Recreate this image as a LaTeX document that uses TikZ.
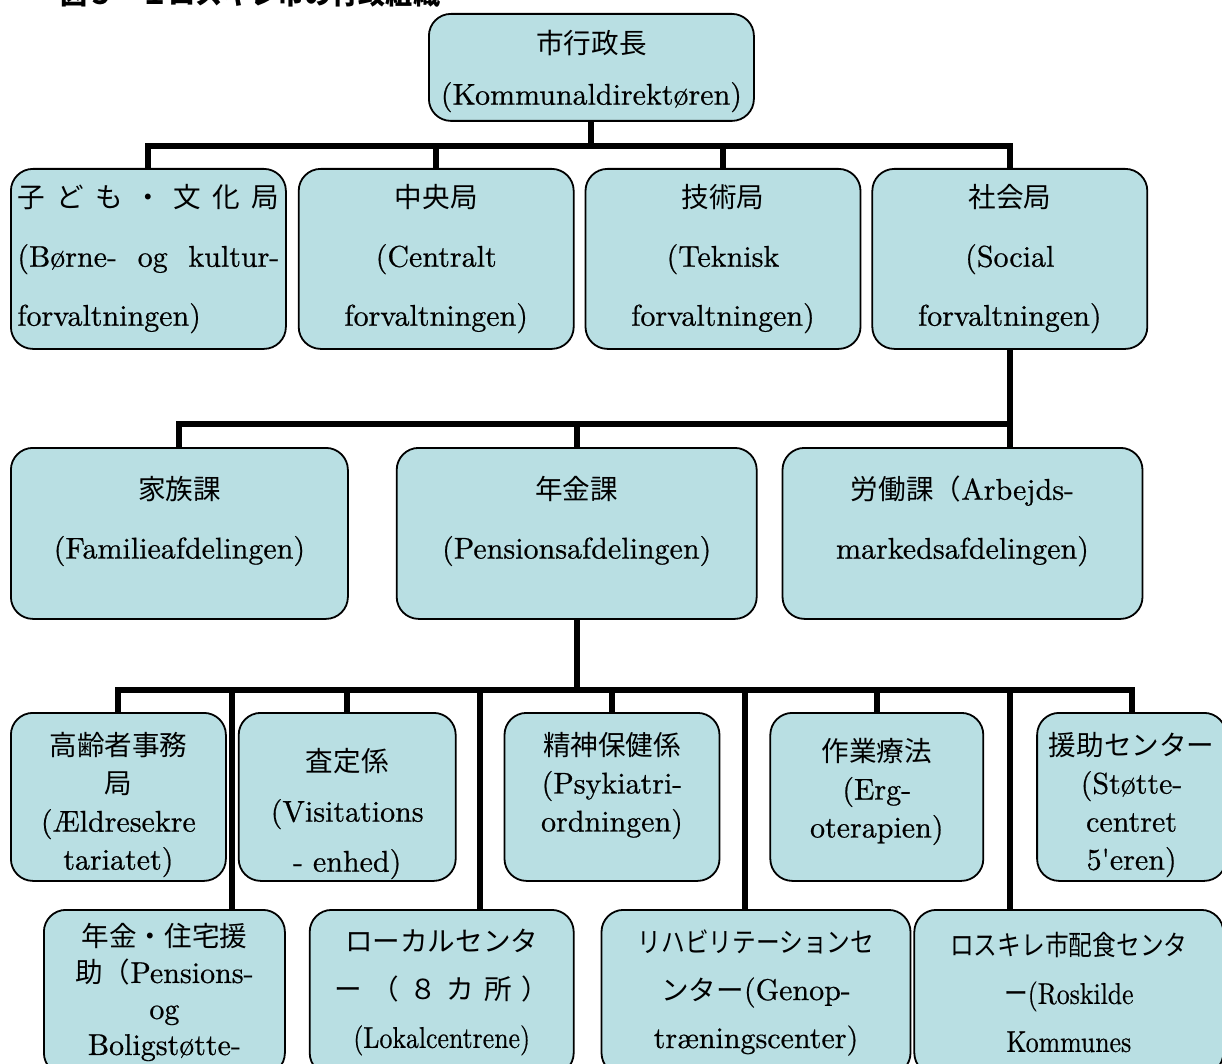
\documentclass[tikz,border=0pt]{standalone}
\usepackage{fontspec}
\usepackage{graphicx}
\usepackage{xcolor}
\setmainfont{lmroman10-regular.otf}[FakeBold=0.6]
\newfontfamily\jp[Scale=0.92]{Noto Sans CJK JP}
\definecolor{BoxFill}{HTML}{B9DFE3}
\usetikzlibrary{positioning,calc}
\tikzset{
  unit/.style={draw=black,line width=1.8pt,fill=BoxFill,rounded corners=22pt,
    inner sep=0pt,align=center,text=black},
  link/.style={line width=6pt,draw=black},
  rowtop/.style={unit,font=\fontsize{30}{51}\selectfont},
  rowmid/.style={unit,font=\fontsize{30}{59}\selectfont},
  rowlow/.style={unit,font=\fontsize{30}{38}\selectfont}
}
\newcommand{\squeeze}[1]{\scalebox{0.86}[1]{#1}}

\begin{document}
\begin{tikzpicture}[x=1pt,y=-1pt]
\clip (0,0) rectangle (1222,1064);
\node[anchor=base west,inner sep=0pt,font=\fontsize{29.5}{30}\selectfont] (title) at (60,5)
  {\jp\bfseries 図５－１ロスキレ市の行政組織};

% director
\node[rowtop,anchor=north west,minimum width=325pt,minimum height=107pt] (dir) at (428,13)
  {\mbox{}\\[-20pt]{\jp 市行政長}\\(Kommunaldirektøren)};

% departments
\node[rowmid,anchor=north west,minimum width=275pt,minimum height=180pt] (b1) at (10,168)
  {\makebox[262pt][s]{\jp 子 ど も ・ 文 化 局}\\\makebox[262pt][s]{(Børne- og kultur-}\\
   \makebox[262pt][l]{forvaltningen)}};
\node[rowmid,right=11pt of b1,minimum width=275pt,minimum height=180pt] (b2)
  {{\jp 中央局}\\(Centralt\\forvaltningen)};
\node[rowmid,right=10pt of b2,minimum width=275pt,minimum height=180pt] (b3)
  {{\jp 技術局}\\(Teknisk\\forvaltningen)};
\node[rowmid,right=10pt of b3,minimum width=275pt,minimum height=180pt] (b4)
  {{\jp 社会局}\\(Social\\forvaltningen)};

% sections of the social department
\node[rowmid,anchor=north west,minimum width=337pt,minimum height=171pt] (fam) at (10,447)
  {{\jp 家族課}\\(Familieafdelingen)\\[-27pt]\mbox{}};
\node[rowmid,right=47pt of fam,minimum width=360pt,minimum height=171pt] (pen)
  {{\jp 年金課}\\(Pensionsafdelingen)\\[-27pt]\mbox{}};
\node[rowmid,right=24pt of pen,minimum width=360pt,minimum height=171pt] (lab)
  {{\jp 労働課（}Arbejds-\\markedsafdelingen)\\[-27pt]\mbox{}};

% units, upper row
\node[rowlow,anchor=north west,minimum width=215pt,minimum height=168pt] (eA) at (10,712)
  {\mbox{}\\[1pt]{\jp 高齢者事務}\\{\jp 局}\\(Ældresekre\\tariatet)};
\node[rowlow,right=11pt of eA,minimum width=217pt,minimum height=168pt,
  font=\fontsize{30}{50}\selectfont] (eB)
  {\mbox{}\\[7pt]{\jp 査定係}\\(Visitations\\- enhed)};
\node[rowlow,right=47pt of eB,minimum width=215pt,minimum height=168pt] (eC)
  {{\jp 精神保健係}\\(Psykiatri-\\ordningen)\\[-8pt]\mbox{}};
\node[rowlow,right=49pt of eC,minimum width=213pt,minimum height=168pt] (eD)
  {{\jp 作業療法}\\(Erg-\\oterapien)\\[-20pt]\mbox{}};
\node[rowlow,right=52pt of eD,minimum width=189pt,minimum height=168pt] (eE)
  {\mbox{}\\[1pt]{\jp 援助センター}\\(Støtte-\\centret\\5\textquotesingle eren)};

% units, lower row
\node[rowlow,anchor=north west,minimum width=241pt,minimum height=165pt,
  font=\fontsize{30}{36}\selectfont] (eF) at (43,909)
  {{\jp 年金・住宅援}\\{\jp 助（}Pensions-\\og\\Boligstøtte-};
\node[rowlow,right=23pt of eF,minimum width=264pt,minimum height=165pt,
  font=\fontsize{30}{48}\selectfont] (eG)
  {{\jp ローカルセンタ}\\\makebox[215pt][s]{\jp ー （ ８ カ 所 ）}\\\squeeze{(Lokalcentrene)}};
\node[rowlow,right=26pt of eG,minimum width=309pt,minimum height=165pt,
  font=\fontsize{30}{48}\selectfont] (eH)
  {\squeeze{\jp リハビリテーションセ}\\{\jp ンター}(Genop-\\træningscenter)};
\node[rowlow,right=2pt of eH,minimum width=309pt,minimum height=165pt,
  font=\fontsize{30}{48}\selectfont] (eI)
  {\squeeze{\jp ロスキレ市配食センタ}\\\squeeze{{\jp ー}(Roskilde}\\\squeeze{Kommunes}};

% connectors
\draw[link] (dir.south) -- ++(0,24) coordinate (bar1);
\draw[link] (b1.north) |- (bar1) -| (b4.north);
\draw[link] (b2.north) -- (b2.north |- bar1);
\draw[link] (b3.north) -- (b3.north |- bar1);

\draw[link] (b4.south) -- ++(0,74) coordinate (bar2);
\draw[link] (fam.north) |- (bar2) -- (bar2 |- lab.north);
\draw[link] (pen.north) -- (pen.north |- bar2);

\draw[link] (pen.south) -- ++(0,70) coordinate (bar3);
\draw[link] (eA.north) |- (bar3) -| (eE.north);
\foreach \u in {eB,eC,eD}
  \draw[link] (\u.north) -- (\u.north |- bar3);
\coordinate (m1) at ($(eA.east)!.5!(eB.west)$);
\coordinate (m2) at ($(eB.east)!.5!(eC.west)$);
\coordinate (m3) at ($(eC.east)!.5!(eD.west)$);
\coordinate (m4) at ($(eD.east)!.5!(eE.west)$);
\draw[link] (m1 |- bar3) -- (m1 |- eF.north);
\draw[link] (m2 |- bar3) -- (m2 |- eG.north);
\draw[link] (m3 |- bar3) -- (m3 |- eH.north);
\draw[link] (m4 |- bar3) -- (m4 |- eI.north);
\end{tikzpicture}
\end{document}
